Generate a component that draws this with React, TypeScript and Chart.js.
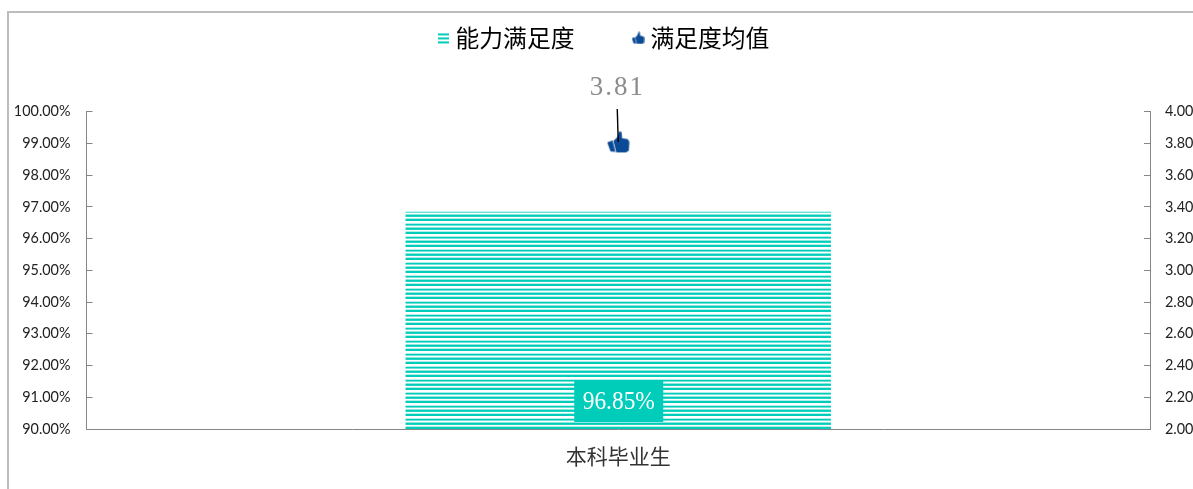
import React, { useEffect, useRef } from "react";
import { Chart, registerables } from "chart.js";

Chart.register(...registerables);

const categories = ["本科毕业生"];
const seriesNames = ["能力满足度", "满足度均值"];
const satisfactionRate = [96.85];
const satisfactionMean = [3.81];

const TEAL = "#00cdb9";
const NAVY = "#0b4a94";
const CJK = '"Noto Sans CJK SC"';
const LATIN = '"Liberation Serif"';

function makeStripes(): CanvasPattern {
  const c = document.createElement("canvas");
  c.width = 4;
  c.height = 13;
  const g = c.getContext("2d")!;
  const rows: [number, string][] = [
    [3, TEAL], [4, "#6fe2d7"], [5, "#ffffff"], [6, "#8ce8df"],
    [7, TEAL], [8, "#20d4c2"], [9, "#ffffff"], [10, "#b0efe9"],
    [11, TEAL], [12, TEAL], [0, "#ffffff"], [1, "#ffffff"], [2, "#b0efe9"],
  ];
  rows.forEach(([y, col]) => {
    g.fillStyle = col;
    g.fillRect(0, y, 4, 1);
  });
  return g.createPattern(c, "repeat")!;
}

function makeLegendStripes(): HTMLCanvasElement {
  const c = document.createElement("canvas");
  c.width = 11;
  c.height = 13;
  const g = c.getContext("2d")!;
  g.fillStyle = TEAL;
  [2, 6, 10].forEach((y) => g.fillRect(0, y, 11, 2));
  return c;
}

function makeThumb(size: number): HTMLCanvasElement {
  const c = document.createElement("canvas");
  c.width = size;
  c.height = size;
  const g = c.getContext("2d")!;
  g.scale(size / 24, size / 24);
  g.fillStyle = NAVY;
  g.beginPath();
  g.moveTo(0.5, 12.5);
  g.lineTo(6, 10.5);
  g.lineTo(9, 22.5);
  g.lineTo(4, 22);
  g.closePath();
  g.fill();
  g.beginPath();
  g.moveTo(7, 11);
  g.lineTo(11, 7);
  g.lineTo(13, 1);
  g.lineTo(15.5, 1.5);
  g.lineTo(16, 8);
  g.lineTo(22, 9);
  g.lineTo(23.5, 12);
  g.lineTo(23, 21);
  g.lineTo(20, 23);
  g.lineTo(10, 23);
  g.closePath();
  g.fill();
  return c;
}

export default function App() {
  const ref = useRef<HTMLCanvasElement>(null);

  useEffect(() => {
    const placeLegend = {
      id: "placeLegend",
      afterLayout(chart: any) {
        chart.legend.top -= 52;
        chart.legend.bottom -= 52;
        chart.legend.left += 9.5;
        chart.legend.right += 9.5;
      },
    };
    const annotate = {
      id: "annotate",
      afterDatasetsDraw(chart: any) {
        const { ctx } = chart;
        const bar = chart.getDatasetMeta(0).data[0];
        const point = chart.getDatasetMeta(1).data[0];
        const base = chart.scales.y.bottom;

        ctx.save();
        // leader line from the mean label down to its marker
        ctx.strokeStyle = "#000000";
        ctx.lineWidth = 1.4;
        ctx.beginPath();
        ctx.moveTo(point.x - 1, point.y - 33);
        ctx.lineTo(point.x, point.y);
        ctx.stroke();

        ctx.textAlign = "center";
        ctx.textBaseline = "middle";
        ctx.font = `27px ${LATIN}`;
        (ctx as any).letterSpacing = "2px";
        ctx.fillStyle = "#8c8c8c";
        ctx.fillText(satisfactionMean[0].toFixed(2), point.x - 1, point.y - 54);

        // value label box inside the bar's base
        const cy = base - 28;
        ctx.fillStyle = TEAL;
        ctx.fillRect(bar.x - 44, cy - 20, 89, 41);
        ctx.font = `26px ${LATIN}`;
        (ctx as any).letterSpacing = "0px";
        ctx.fillStyle = "#ffffff";
        ctx.translate(bar.x + 0.5, cy + 1);
        ctx.scale(0.9, 1);
        ctx.fillText(satisfactionRate[0].toFixed(2) + "%", 0, 0);
        ctx.restore();
      },
    };

    const chart = new Chart(ref.current!, {
      type: "bar",
      data: {
        labels: categories,
        datasets: [
          {
            type: "bar",
            label: seriesNames[0],
            data: satisfactionRate,
            backgroundColor: makeStripes(),
            borderWidth: 0,
            barPercentage: 0.4,
            categoryPercentage: 1,
            yAxisID: "y",
            order: 2,
          },
          {
            type: "line",
            label: seriesNames[1],
            data: satisfactionMean,
            showLine: false,
            pointStyle: makeThumb(23) as any,
            pointRadius: 12,
            yAxisID: "y1",
            order: 1,
          },
        ],
      } as any,
      options: {
        responsive: false,
        animation: false,
        layout: { padding: { top: 15, left: 0, right: 0, bottom: 0 } },
        plugins: {
          tooltip: { enabled: false },
          legend: {
            display: true,
            position: "top",
            labels: {
              boxWidth: 1,
              boxHeight: 13,
              usePointStyle: true,
              padding: 63,
              color: "#1a1a1a",
              font: { family: CJK, size: 23.8 },
              generateLabels: () => [
                { text: seriesNames[0], pointStyle: makeLegendStripes(), datasetIndex: 0, lineWidth: 0 },
                { text: seriesNames[1], pointStyle: makeThumb(13), datasetIndex: 1, lineWidth: 0 },
              ],
            },
          },
        },
        scales: {
          x: {
            offset: true,
            grid: { display: false, drawTicks: false },
            border: { color: "#868686", width: 1 },
            ticks: { color: "#333333", padding: 14, font: { family: CJK, size: 21 } },
            afterFit: (s: any) => { s.height = 60; },
          },
          y: {
            position: "left",
            min: 90,
            max: 100,
            grid: { drawOnChartArea: false, tickLength: -6, tickColor: "#868686" },
            border: { color: "#868686", width: 1 },
            ticks: {
              stepSize: 1,
              padding: 22,
              color: "#222222",
              font: { family: "Lato", size: 14.4 },
              callback: (v: any) => Number(v).toFixed(2) + "%",
            },
            afterFit: (s: any) => { s.width = 86.5; },
          },
          y1: {
            position: "right",
            min: 2,
            max: 4,
            grid: { drawOnChartArea: false, tickLength: -6, tickColor: "#868686" },
            border: { color: "#868686", width: 1 },
            ticks: {
              stepSize: 0.2,
              padding: 21,
              color: "#222222",
              font: { family: "Lato", size: 14.4 },
              callback: (v: any) => Number(v).toFixed(2),
            },
            afterFit: (s: any) => { s.width = 43; },
          },
        },
      } as any,
      plugins: [placeLegend, annotate],
    } as any);
    return () => chart.destroy();
  }, []);

  return (
    <div style={{ position: "fixed", left: 0, top: 0, width: 1193, height: 489, background: "#fff", overflow: "hidden" }}>
      <div style={{ position: "absolute", left: 7, top: 11, right: -4, bottom: -4, borderTop: "2px solid #bdbdbd", borderLeft: "2px solid #bdbdbd" }} />
      <canvas ref={ref} width={1193} height={489} style={{ position: "absolute", left: 0, top: 0, display: "block" }} />
    </div>
  );
}
